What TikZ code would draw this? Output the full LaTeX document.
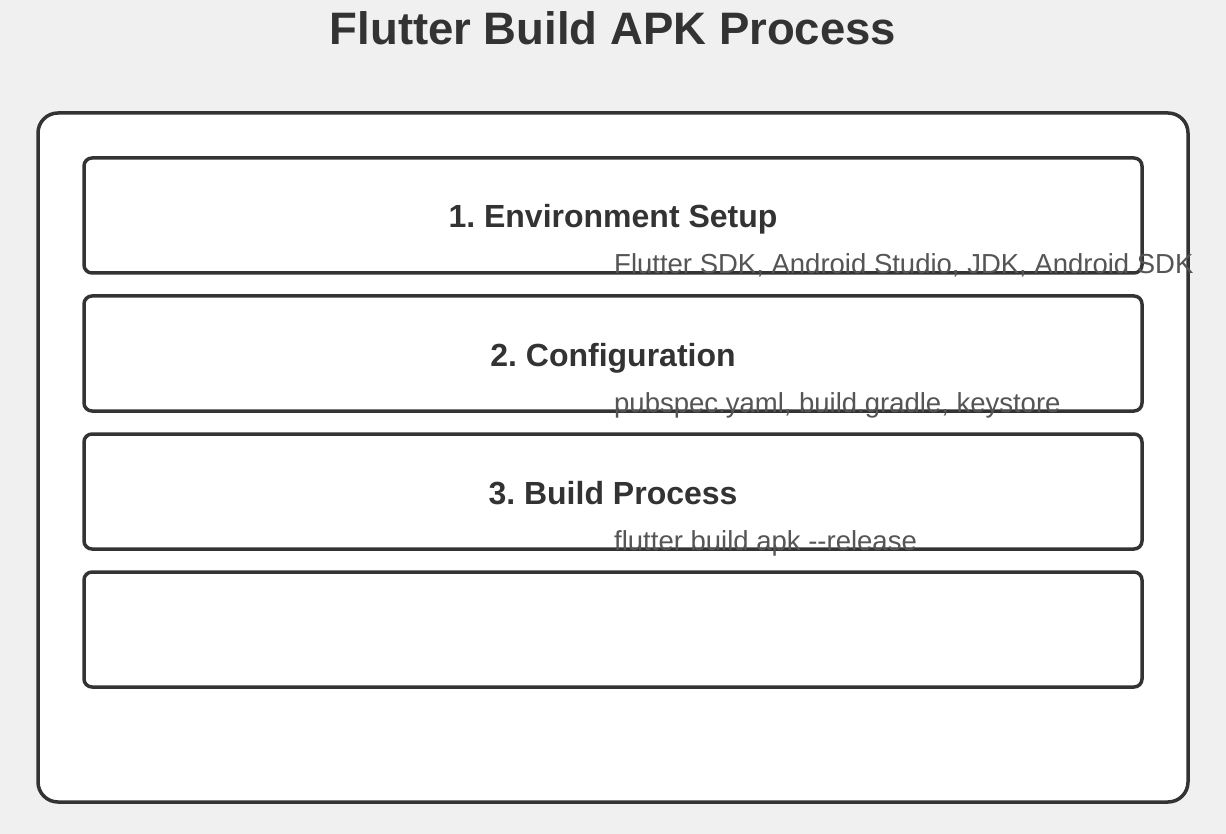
\documentclass[tikz,border=0pt]{standalone}
\usepackage{fontspec}
\setmainfont{Liberation Sans}
\usetikzlibrary{positioning}
\definecolor{darkline}{RGB}{51, 51, 51}
\definecolor{subgray}{RGB}{85, 85, 85}
\definecolor{pagebg}{RGB}{240, 240, 240}
\frenchspacing

\begin{document}
\begin{tikzpicture}[
  x=1pt, y=-1pt,
  frame/.style={draw=darkline, line width=3.5pt, fill=white, rounded corners=20pt, minimum width=1150pt, minimum height=689pt, inner sep=0pt},
  stage/.style={draw=darkline, line width=3.5pt, fill=white, rounded corners=8pt, minimum width=1058pt, minimum height=115pt, inner sep=0pt},
  stagetitle/.style={font=\fontsize{32}{36}\selectfont\bfseries, text=darkline, anchor=base, inner sep=0pt},
  stagesub/.style={font=\fontsize{27.5}{32}\selectfont, text=subgray, anchor=base west, inner sep=0pt},
]
% Background
\fill[pagebg] (0,0) rectangle (1226,834);
\useasboundingbox (0,0) rectangle (1226,834);

% Title
\node[font=\fontsize{45.5}{50}\selectfont\bfseries, text=darkline, anchor=base, inner sep=0pt] (title) at (613, 45) {Flutter Build APK Process};

% Outer frame
\node[frame] (outer) at (613, 457.5) {};

% Stages
\node[stage] (env) at (613, 215.5) {};
\node[stage] (conf) at (613, 353.5) {};
\node[stage] (build) at (613, 491.5) {};
\node[stage] (empty) at (613, 629.5) {};

% Stage labels
\node[stagetitle] (envtitle) at (613, 228) {1. Environment Setup};
\node[stagesub] (envsub) at (614, 274) {Flutter SDK, Android Studio, JDK, Android SDK};

\node[stagetitle] (conftitle) at (613, 366) {2. Configuration};
\node[stagesub] (confsub) at (614, 412) {pubspec.yaml, build.gradle, keystore};

\node[stagetitle] (buildtitle) at (613, 504) {3. Build Process};
\node[stagesub] (buildsub) at (614, 550) {flutter build apk {-}{-}release};
\end{tikzpicture}
\end{document}
